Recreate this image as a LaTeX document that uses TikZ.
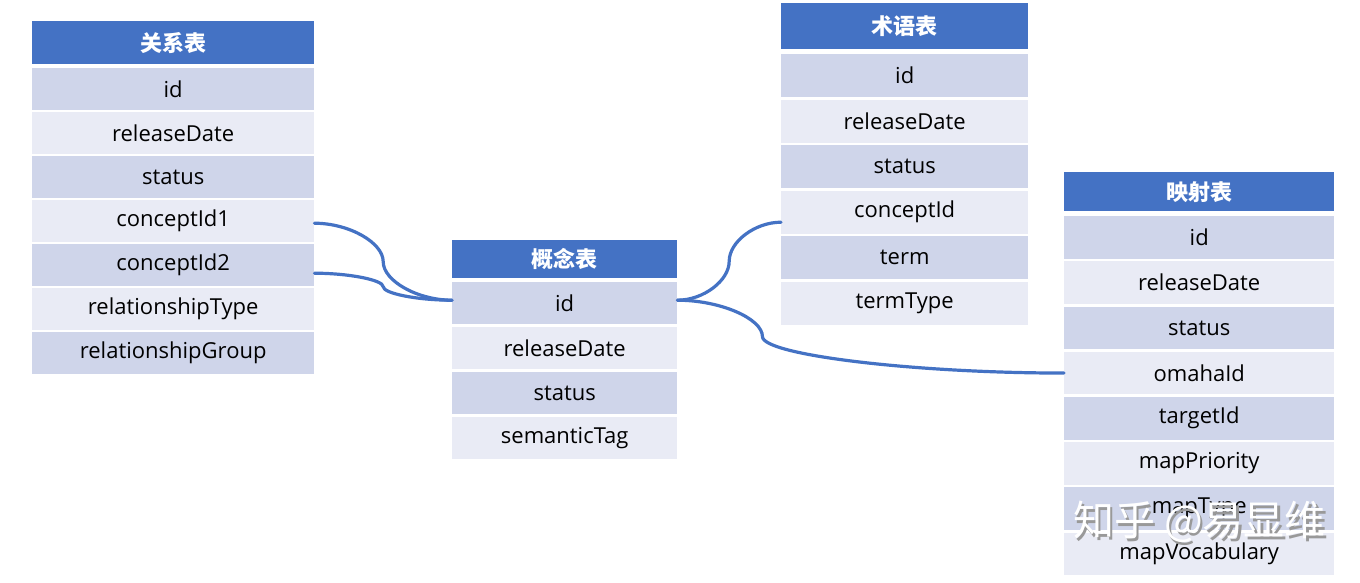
\documentclass[tikz,border=0pt]{standalone}
\usepackage{fontspec}
\setmainfont{Open Sans}
\newfontfamily\cjk{Noto Sans CJK SC}
\usetikzlibrary{calc}
\definecolor{hdr}{HTML}{4472C4}
\definecolor{rowdark}{HTML}{CFD5EA}
\definecolor{rowlight}{HTML}{E9EBF5}
\definecolor{conncol}{HTML}{4472C4}
\tikzset{
  cell/.style={rectangle, inner sep=0pt, anchor=north west, font=\fontsize{22}{26}\selectfont, text=black},
  hdrcell/.style={cell, fill=hdr, text=white, font=\cjk\bfseries\fontsize{22}{26}\selectfont},
  conn/.style={draw=conncol, line width=3.2pt, line cap=round},
}
\newcommand\curveconn[3]{%
  \draw[conn] let \p1=#1, \p2=#2, \n1={#3}, \n2={\x1+\n1*(\x2-\x1)} in
   (\p1) .. controls ({0.5*(\x1+\n2)},\y1) and (\n2,{\y1+0.25*(\y2-\y1)}) ..
   (\n2,{0.5*(\y1+\y2)}) .. controls (\n2,{\y1+0.75*(\y2-\y1)}) and ({0.5*(\n2+\x2)},\y2) .. (\p2);}
\begin{document}
\begin{tikzpicture}[x=1pt,y=-1pt]
\useasboundingbox[fill=white] (0,0) rectangle (1360,582);
% ---- table 1: 关系表
\node[hdrcell, minimum width=282pt, minimum height=43pt] (a-h) at (32,21) {关系表};
\foreach \t [count=\i] in {id,releaseDate,status,conceptId1,conceptId2,relationshipType,relationshipGroup}{
  \pgfmathsetmacro\yy{68+(\i-1)*44}
  \pgfmathtruncatemacro\pp{mod(\i,2)}
  \ifnum\pp=1 \def\fc{rowdark}\else\def\fc{rowlight}\fi
  \node[cell, fill=\fc, minimum width=282pt, minimum height=42pt] (a-\i) at (32,\yy) {\t};
}
% ---- table 2: 概念表
\node[hdrcell, minimum width=225pt, minimum height=38pt] (b-h) at (452,240) {概念表};
\foreach \t [count=\i] in {id,releaseDate,status,semanticTag}{
  \pgfmathsetmacro\yy{282+(\i-1)*45}
  \pgfmathtruncatemacro\pp{mod(\i,2)}
  \ifnum\pp=1 \def\fc{rowdark}\else\def\fc{rowlight}\fi
  \node[cell, fill=\fc, minimum width=225pt, minimum height=42pt] (b-\i) at (452,\yy) {\t};
}
% ---- table 3: 术语表
\node[hdrcell, minimum width=247pt, minimum height=46pt] (c-h) at (781,3) {术语表};
\foreach \t [count=\i] in {id,releaseDate,status,conceptId,term,termType}{
  \pgfmathsetmacro\yy{54+(\i-1)*45.5}
  \pgfmathtruncatemacro\pp{mod(\i,2)}
  \ifnum\pp=1 \def\fc{rowdark}\else\def\fc{rowlight}\fi
  \node[cell, fill=\fc, minimum width=247pt, minimum height=43pt] (c-\i) at (781,\yy) {\t};
}
% ---- table 4: 映射表
\node[hdrcell, minimum width=270pt, minimum height=39pt] (d-h) at (1064,172) {映射表};
\foreach \t [count=\i] in {id,releaseDate,status,omahaId,targetId,mapPriority,mapType,mapVocabulary}{
  \pgfmathsetmacro\yy{216+(\i-1)*45.2}
  \pgfmathtruncatemacro\pp{mod(\i,2)}
  \ifnum\pp=1 \def\fc{rowdark}\else\def\fc{rowlight}\fi
  \node[cell, fill=\fc, minimum width=270pt, minimum height=42.5pt] (d-\i) at (1064,\yy) {\t};
}
% ---- connectors
\curveconn{($(a-4.east)+(0,2)$)}{($(b-1.west)+(0,-3)$)}{0.5}
\curveconn{($(a-5.east)+(0,8)$)}{($(b-1.west)+(0,-3)$)}{0.5}
\curveconn{($(b-1.east)+(0,-3)$)}{($(c-4.west)+(0,10)$)}{0.5}
\curveconn{($(b-1.east)+(0,-3)$)}{(d-4.west)}{0.22}
% ---- watermark
\node[font=\cjk\fontsize{41}{44}\selectfont, text=black!40] (wms) at (1202,524.5) {知乎 @易显维};
\node[font=\cjk\fontsize{41}{44}\selectfont, text=white] (wm) at (1199.5,522) {知乎 @易显维};
\end{tikzpicture}
\end{document}
